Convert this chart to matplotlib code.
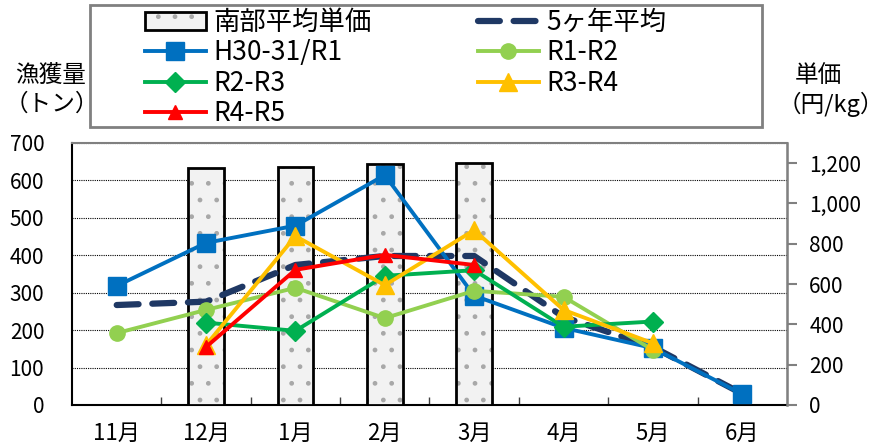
import numpy as np
import matplotlib
matplotlib.use("Agg")
import matplotlib.pyplot as plt
from matplotlib.patches import Rectangle

plt.rcParams['font.family'] = ['Noto Sans CJK JP', 'DejaVu Sans']
plt.rcParams['hatch.linewidth'] = 1.0

months = ["11月", "12月", "1月", "2月", "3月", "4月", "5月", "6月"]

# 南部平均単価 (円/kg), 12月-3月
price_months = ["12月", "1月", "2月", "3月"]
price = [1175, 1180, 1195, 1200]

# 漁獲量 (トン), None = no data
avg5 = [267, 276, 374, 398, 398, 235, 155, 30]
h30_r1 = [318, 433, 479, 614, 292, 206, 152, 29]
r1_r2 = [192, 254, 313, 232, 305, 289, 147, None]
r2_r3 = [None, 220, 198, 345, 360, 209, 223, None]
r3_r4 = [None, 160, 451, 320, 467, 254, 165, None]
r4_r5 = [None, 155, 361, 401, 374, None, None, None]


def arr(v):
    return np.array([np.nan if a is None else a for a in v], dtype=float)


fig = plt.figure(figsize=(8.87, 4.48), dpi=100)
ax = fig.add_axes([0.0812, 0.096, 0.806, 0.585])
ax2 = ax.twinx()
ax3 = ax.twinx()
ax.set_zorder(1)
ax2.set_zorder(2)
ax3.set_zorder(3)
ax2.patch.set_visible(False)
ax3.patch.set_visible(False)

x = np.arange(len(months))
ax.set_xlim(-0.5, len(months) - 0.5)
ax.set_ylim(0, 700)
ax.set_yticks(range(0, 701, 100))
ax.grid(axis='y', color='black', linestyle=(0, (1, 1)), linewidth=0.8)
ax.set_xticks(x)
ax.set_xticklabels(months)
ax.set_xticks(np.arange(0.5, len(months) - 0.5), minor=True)
ax.tick_params(axis='x', which='major', length=0, pad=12, labelsize=16)
ax.tick_params(axis='x', which='minor', direction='in', length=6, width=1, color='#404040')
ax.tick_params(axis='y', length=0, pad=20, labelsize=15)
for s in ['left', 'bottom']:
    ax.spines[s].set_color('black')
    ax.spines[s].set_linewidth(1.5)
ax.spines['top'].set_color('#808080')
ax.spines['top'].set_linewidth(1.5)

# bars on right axis: dotted fill, then black outline
px = [months.index(m) for m in price_months]
bars_fill = ax2.bar(px, price, width=0.4, color='#f2f2f2', edgecolor='#a8a8a8',
                    linewidth=0, hatch='.')
bars_edge = ax2.bar(px, price, width=0.4, fill=False, edgecolor='black',
                    linewidth=2)
ax2.set_ylim(0, 1300)
ax2.set_yticks(range(0, 1201, 200))
ax2.set_yticklabels([f"{v:,}" for v in range(0, 1201, 200)])
ax2.tick_params(axis='y', direction='out', length=7, width=1.5, color='#808080',
                pad=9, labelsize=15)
ax2.spines['right'].set_color('#808080')
ax2.spines['right'].set_linewidth(1.8)
for s in ['left', 'top', 'bottom']:
    ax2.spines[s].set_visible(False)

# lines on top
ax3.set_ylim(0, 700)
ax3.axis('off')
l_avg, = ax3.plot(x, arr(avg5), color='#1f3864', linewidth=4.5,
                  dashes=(3.5, 2.2), dash_capstyle='round', label='5ヶ年平均')
l_h30, = ax3.plot(x, arr(h30_r1), color='#0070c0', linewidth=2.8, marker='s',
                  markersize=13, label='H30-31/R1')
l_r12, = ax3.plot(x, arr(r1_r2), color='#92d050', linewidth=2.8, marker='o',
                  markersize=11, label='R1-R2')
l_r23, = ax3.plot(x, arr(r2_r3), color='#00b050', linewidth=2.8, marker='D',
                  markersize=10, label='R2-R3')
l_r34, = ax3.plot(x, arr(r3_r4), color='#ffc000', linewidth=2.8, marker='^',
                  markersize=13, label='R3-R4')
l_r45, = ax3.plot(x, arr(r4_r5), color='#ff0000', linewidth=2.8, marker='^',
                  markersize=10, label='R4-R5')

# legend: two separate columns inside one frame
fig.patches.append(Rectangle((90 / 887, 1 - 127 / 448), 672 / 887, 122 / 448,
                             transform=fig.transFigure, fill=False,
                             edgecolor='#808080', linewidth=2, zorder=5))
leg_kw = dict(loc='upper left', fontsize=19, handlelength=2.3,
              labelspacing=0.13, handletextpad=0.3, borderpad=0,
              borderaxespad=0, frameon=False)
col1 = [(bars_fill, bars_edge), l_h30, l_r23, l_r45]
col1_labels = ['南部平均単価', 'H30-31/R1', 'R2-R3', 'R4-R5']
col2 = [l_avg, l_r12, l_r34]
leg1 = fig.legend(col1, col1_labels,
                  bbox_to_anchor=(145 / 887, 1 - 9 / 448), **leg_kw)
leg2 = fig.legend(col2, [h.get_label() for h in col2],
                  bbox_to_anchor=(478 / 887, 1 - 9 / 448), **leg_kw)

fig.text(0.057, 0.832, "漁獲量", fontsize=17, ha='center', va='center')
fig.text(0.058, 0.768, "（トン）", fontsize=17, ha='center', va='center')
fig.text(0.923, 0.832, "単価", fontsize=17, ha='center', va='center')
fig.text(0.937, 0.768, "（円/kg）", fontsize=17, ha='center', va='center')

fig.savefig("out.png", dpi=100)
